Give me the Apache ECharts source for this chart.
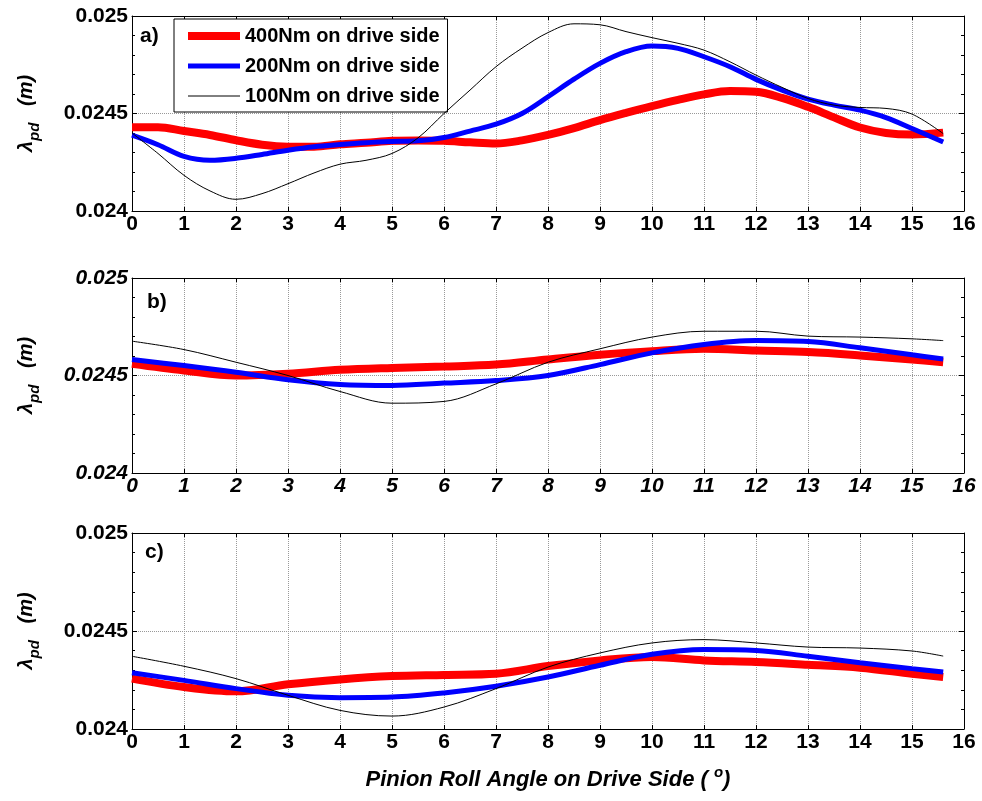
<!DOCTYPE html>
<html>
<head>
<meta charset="utf-8">
<script src="https://cdn.jsdelivr.net/npm/echarts@6/dist/echarts.min.js"></script>
<style>
  html, body { margin: 0; padding: 0; background: #fff; }
  #chart { width: 982px; height: 801px; }
</style>
</head>
<body>
<div id="chart"></div>
<script>
// x positions (pinion roll angle, deg)
const xFine = [0, 0.5, 1, 1.5, 2, 2.5, 3, 3.5, 4, 4.5, 5, 5.5, 6, 6.5, 7, 7.5, 8, 8.5, 9, 9.5, 10, 10.5, 11, 11.5, 12, 12.5, 13, 13.5, 14, 14.5, 15, 15.6]
const xCoarse = [0, 1, 2, 3, 4, 5, 6, 7, 8, 9, 10, 11, 12, 13, 14, 15, 15.6]

const seriesNames = ['400Nm on drive side', '200Nm on drive side', '100Nm on drive side']
const panelLabels = ['a)', 'b)', 'c)']
const yTicks = [0.024, 0.0245, 0.025]

// panel a (xFine)
const a400 = [0.02443, 0.02443, 0.02441, 0.02439, 0.024363, 0.02434, 0.02433, 0.02433, 0.024342, 0.02435, 0.02436, 0.024362, 0.02436, 0.024352, 0.024346, 0.024362, 0.02439, 0.024425, 0.024466, 0.024503, 0.024538, 0.02457, 0.024598, 0.024615, 0.024611, 0.02458, 0.024534, 0.02448, 0.024428, 0.0244, 0.024392, 0.024402]
const a200 = [0.024389, 0.02434, 0.02428, 0.02426, 0.02427, 0.02429, 0.024312, 0.02433, 0.024341, 0.02435, 0.024356, 0.02436, 0.024377, 0.02441, 0.024445, 0.0245, 0.024586, 0.024676, 0.024757, 0.024817, 0.024846, 0.024834, 0.024791, 0.02474, 0.024675, 0.02462, 0.024574, 0.024543, 0.024517, 0.024479, 0.024423, 0.024354]
const a100 = [0.0244, 0.024295, 0.024183, 0.024103, 0.02406, 0.024089, 0.02414, 0.024195, 0.02424, 0.02426, 0.024295, 0.024375, 0.0245, 0.02462, 0.02474, 0.024835, 0.024915, 0.02496, 0.024955, 0.02492, 0.024889, 0.02486, 0.024825, 0.024765, 0.024697, 0.024634, 0.024577, 0.024543, 0.024531, 0.024526, 0.024497, 0.024397]

// panel b (xCoarse)
const b400 = [0.02456, 0.024526, 0.0245, 0.024509, 0.024529, 0.024539, 0.024546, 0.024556, 0.024582, 0.024606, 0.024625, 0.024637, 0.024628, 0.02462, 0.024603, 0.024582, 0.024568]
const b200 = [0.024582, 0.024551, 0.024517, 0.024478, 0.024454, 0.024449, 0.024461, 0.024474, 0.0245, 0.024556, 0.024616, 0.024659, 0.024679, 0.024674, 0.024642, 0.024606, 0.024585]
const b100 = [0.024676, 0.024633, 0.024568, 0.0245, 0.024418, 0.024358, 0.024367, 0.024457, 0.024568, 0.024637, 0.024697, 0.024727, 0.024727, 0.024702, 0.024697, 0.024688, 0.024679]

// panel c (xCoarse)
const c400 = [0.024257, 0.024214, 0.024192, 0.024228, 0.024253, 0.02427, 0.024276, 0.024282, 0.024321, 0.02435, 0.024367, 0.02435, 0.024342, 0.024328, 0.024313, 0.024282, 0.024265]
const c200 = [0.024287, 0.024248, 0.024206, 0.024172, 0.02416, 0.024163, 0.024184, 0.024218, 0.024265, 0.024325, 0.024381, 0.024405, 0.024401, 0.024371, 0.024338, 0.024308, 0.024291]
const c100 = [0.024371, 0.02432, 0.024257, 0.024172, 0.024095, 0.024066, 0.024112, 0.024206, 0.024316, 0.024388, 0.024439, 0.024456, 0.024439, 0.024418, 0.024413, 0.024398, 0.024372]

const panels = [
  { xs: xFine, ys: [a400, a200, a100], top: 16, height: 195, italic: false, labelPos: [140, 26] },
  { xs: xCoarse, ys: [b400, b200, b100], top: 278, height: 195, italic: true, labelPos: [147, 292] },
  { xs: xCoarse, ys: [c400, c200, c100], top: 533, height: 196, italic: false, labelPos: [145, 542] }
]

const lineColors = ['#ff0000', '#0000ff', '#000000']
const lineWidths = [8, 5, 1]
const FONT = 'Liberation Sans'

const zip = (xs, ys) => xs.map((x, i) => [x, ys[i]])

const chart = echarts.init(document.getElementById('chart'), null, { renderer: 'canvas' })

const grid = []
const xAxis = []
const yAxis = []
const series = []
const graphic = []

panels.forEach((p, i) => {
  grid.push({ left: 132, right: 18, top: p.top, height: p.height, outerBoundsMode: 'none' })
  const labelStyle = {
    color: '#000',
    fontFamily: FONT,
    fontWeight: 'bold',
    fontStyle: p.italic ? 'italic' : 'normal',
    fontSize: 21
  }
  const gridLine = { show: true, lineStyle: { color: '#999', type: 'dotted', width: 1 } }
  // bottom x
  xAxis.push({
    type: 'value',
    gridIndex: i,
    min: 0,
    max: 16,
    interval: 1,
    position: 'bottom',
    axisLine: { show: true, onZero: false, lineStyle: { color: '#000', width: 1 } },
    axisTick: { show: true, inside: true, length: 4, lineStyle: { color: '#000' } },
    axisLabel: Object.assign({ margin: 3 }, labelStyle),
    splitLine: gridLine,
    name: i === 2 ? '{t|Pinion Roll Angle on Drive Side ( }{s|o}{t|)}' : '',
    nameLocation: 'middle',
    nameGap: 36,
    nameTextStyle: {
      rich: {
        t: { fontFamily: FONT, fontWeight: 'bold', fontStyle: 'italic', fontSize: 22, color: '#000', lineHeight: 30 },
        s: { fontFamily: FONT, fontWeight: 'bold', fontStyle: 'italic', fontSize: 15, color: '#000', lineHeight: 16, verticalAlign: 'top' }
      }
    }
  })
  // top x (ticks only)
  xAxis.push({
    type: 'value',
    gridIndex: i,
    min: 0,
    max: 16,
    interval: 1,
    position: 'top',
    axisLine: { show: true, onZero: false, lineStyle: { color: '#000', width: 1 } },
    axisTick: { show: true, inside: true, length: 4, lineStyle: { color: '#000' } },
    axisLabel: { show: false },
    splitLine: { show: false }
  })
  // left y
  yAxis.push({
    type: 'value',
    gridIndex: i,
    min: yTicks[0],
    max: yTicks[2],
    interval: 0.0005,
    position: 'left',
    axisLine: { show: true, onZero: false, lineStyle: { color: '#000', width: 1 } },
    axisTick: { show: true, inside: true, length: 5, lineStyle: { color: '#000' } },
    minorTick: { show: true, splitNumber: 5, length: 3, lineStyle: { color: '#000' } },
    axisLabel: Object.assign({ margin: 4, formatter: v => String(+v.toFixed(4)) }, labelStyle),
    splitLine: gridLine,
    name: '{l|λ}{s|pd}{g|   }{l|(m)}',
    nameLocation: 'middle',
    nameRotate: 90,
    nameGap: 90,
    nameTextStyle: {
      rich: {
        l: { fontFamily: FONT, fontWeight: 'bold', fontStyle: 'italic', fontSize: 20, color: '#000', lineHeight: 32 },
        s: { fontFamily: FONT, fontWeight: 'bold', fontStyle: 'italic', fontSize: 15, color: '#000', lineHeight: 16, verticalAlign: 'bottom' },
        g: { fontSize: 20, lineHeight: 32 }
      }
    }
  })
  // right y (ticks only)
  yAxis.push({
    type: 'value',
    gridIndex: i,
    min: yTicks[0],
    max: yTicks[2],
    interval: 0.0005,
    position: 'right',
    axisLine: { show: true, onZero: false, lineStyle: { color: '#000', width: 1 } },
    axisTick: { show: true, inside: true, length: 5, lineStyle: { color: '#000' } },
    minorTick: { show: true, splitNumber: 5, length: 3, lineStyle: { color: '#000' } },
    axisLabel: { show: false },
    splitLine: { show: false }
  })

  p.ys.forEach((ys, k) => {
    series.push({
      name: seriesNames[k],
      type: 'line',
      xAxisIndex: i * 2,
      yAxisIndex: i * 2,
      data: zip(p.xs, ys),
      smooth: 0.35,
      showSymbol: false,
      symbol: 'none',
      silent: true,
      lineStyle: { color: lineColors[k], width: lineWidths[k] },
      itemStyle: { color: lineColors[k] },
      z: 2 + k
    })
  })

  graphic.push({
    type: 'text',
    left: p.labelPos[0],
    top: p.labelPos[1],
    z: 100,
    style: {
      text: panelLabels[i],
      fill: '#000',
      font: 'bold 21px "Liberation Sans"'
    }
  })
})

const option = {
  animation: false,
  backgroundColor: '#fff',
  grid: grid,
  xAxis: xAxis,
  yAxis: yAxis,
  legend: {
    data: seriesNames,
    orient: 'vertical',
    left: 174,
    top: 19,
    padding: [7, 8, 6, 10],
    itemGap: 10,
    itemWidth: 52,
    itemHeight: 18,
    backgroundColor: '#fff',
    borderColor: '#000',
    borderWidth: 1,
    borderRadius: 0,
    selectedMode: false,
    lineStyle: { width: 'inherit' },
    itemStyle: { opacity: 0 },
    textStyle: { fontFamily: FONT, fontWeight: 'bold', fontSize: 20, color: '#000' }
  },
  graphic: graphic,
  series: series
}

chart.setOption(option)
</script>
</body>
</html>
